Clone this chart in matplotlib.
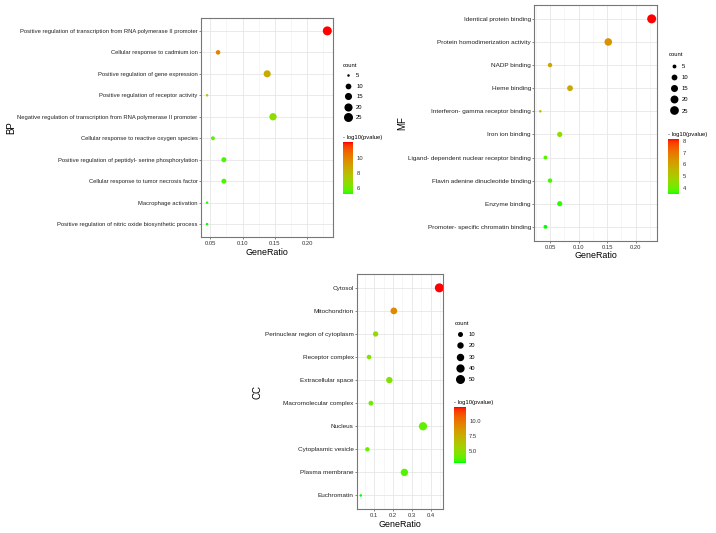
import numpy as np
import matplotlib
matplotlib.use('Agg')
import matplotlib.pyplot as plt
from matplotlib.colors import ListedColormap
from matplotlib.lines import Line2D
from matplotlib.ticker import MultipleLocator

plt.rcParams['font.family'] = ['Liberation Sans', 'DejaVu Sans']

# ---- data ----
bp_terms = ['Positive regulation of transcription from RNA polymerase II promoter',
            'Cellular response to cadmium ion',
            'Positive regulation of gene expression',
            'Positive regulation of receptor activity',
            'Negative regulation of transcription from RNA polymerase II promoter',
            'Cellular response to reactive oxygen species',
            'Positive regulation of peptidyl- serine phosphorylation',
            'Cellular response to tumor necrosis factor',
            'Macrophage activation',
            'Positive regulation of nitric oxide biosynthetic process']
bp_ratio = [0.231, 0.062, 0.138, 0.045, 0.147, 0.054, 0.071, 0.071, 0.045, 0.045]
bp_count = [25, 7, 15, 5, 16, 6, 8, 8, 5, 5]
bp_logp = [12.1, 10.0, 8.6, 7.2, 6.6, 5.6, 5.4, 5.5, 5.2, 5.1]

mf_terms = ['Identical protein binding',
            'Protein homodimerization activity',
            'NADP binding',
            'Heme binding',
            'Interferon- gamma receptor binding',
            'Iron ion binding',
            'Ligand- dependent nuclear receptor binding',
            'Flavin adenine dinucleotide binding',
            'Enzyme binding',
            'Promoter- specific chromatin binding']
mf_ratio = [0.228, 0.152, 0.050, 0.085, 0.033, 0.067, 0.042, 0.050, 0.067, 0.042]
mf_count = [27, 18, 6, 10, 4, 8, 5, 6, 8, 5]
mf_logp = [8.15, 6.4, 5.9, 5.9, 5.4, 4.5, 3.8, 3.7, 3.6, 3.5]

cc_terms = ['Cytosol',
            'Mitochondrion',
            'Perinuclear region of cytoplasm',
            'Receptor complex',
            'Extracellular space',
            'Macromolecular complex',
            'Nucleus',
            'Cytoplasmic vesicle',
            'Plasma membrane',
            'Euchromatin']
cc_ratio = [0.446, 0.204, 0.107, 0.072, 0.180, 0.082, 0.359, 0.063, 0.260, 0.028]
cc_count = [50, 23, 12, 8, 20, 9, 40, 7, 29, 3]
cc_logp = [12.4, 9.3, 5.3, 4.6, 4.6, 4.2, 3.9, 4.1, 3.6, 3.0]


# green -> red gradient interpolated in Lab (like ggplot)
M = np.array([[0.4124, 0.3576, 0.1805], [0.2126, 0.7152, 0.0722], [0.0193, 0.1192, 0.9505]])
WHITE = M.sum(axis=1)

def to_lab(rgb):
    c = np.asarray(rgb, float)
    lin = np.where(c <= 0.04045, c / 12.92, ((c + 0.055) / 1.055) ** 2.4)
    xyz = M @ lin / WHITE
    f = np.where(xyz > (6 / 29) ** 3, np.cbrt(xyz), xyz / (3 * (6 / 29) ** 2) + 4 / 29)
    return np.array([116 * f[1] - 16, 500 * (f[0] - f[1]), 200 * (f[1] - f[2])])

def from_lab(lab):
    fy = (lab[0] + 16) / 116
    f = np.array([fy + lab[1] / 500, fy, fy - lab[2] / 200])
    xyz = np.where(f > 6 / 29, f ** 3, 3 * (6 / 29) ** 2 * (f - 4 / 29)) * WHITE
    lin = np.clip(np.linalg.solve(M, xyz), 0, None)
    c = np.where(lin <= 0.0031308, 12.92 * lin, 1.055 * lin ** (1 / 2.4) - 0.055)
    return np.clip(c, 0, 1)

g, r = to_lab((0, 1, 0)), to_lab((1, 0, 0))
cmap = ListedColormap([from_lab(g + t * (r - g)) for t in np.linspace(0, 1, 256)])

W, H = 716, 533
fig = plt.figure(figsize=(W / 100, H / 100), dpi=100)

def px_axes(l, t, r, b):
    return fig.add_axes([l / W, 1 - b / H, (r - l) / W, (b - t) / H])


def draw(box, terms, ratio, count, logp, name, major, xlim, tick_fs, ylab_x,
         breaks, leg_xy, leg_sp, cbox, cticks, clabels):
    ax = px_axes(*box)
    y = np.arange(len(terms))
    cmin, cmax = min(count), max(count)

    def diam(c):
        return (2.5 + 6.5 * np.sqrt((np.asarray(c, float) - cmin) / (cmax - cmin))) * 0.72

    sc = ax.scatter(ratio, y, s=diam(count) ** 2, c=logp, cmap=cmap,
                    vmin=min(logp), vmax=max(logp), edgecolors='none', zorder=3)
    ax.set_yticks(y, terms)
    ax.set_ylim(len(terms) - 0.4, -0.6)
    ax.set_xlim(*xlim)
    ax.xaxis.set_major_locator(MultipleLocator(major))
    ax.xaxis.set_minor_locator(MultipleLocator(major / 2))
    ax.xaxis.set_major_formatter(lambda v, p: ('%.2f' % v) if major < 0.1 else ('%.1f' % v))
    ax.grid(True, which='major', color='#e6e6e6', lw=0.6)
    ax.grid(True, which='minor', axis='x', color='#f0f0f0', lw=0.4)
    ax.set_axisbelow(True)
    for s in ax.spines.values():
        s.set_color('#777777')
        s.set_linewidth(0.8)
    ax.tick_params(axis='y', labelsize=tick_fs, length=1.5, width=0.5, pad=1, colors='#555555', labelcolor='#222222')
    ax.tick_params(axis='x', labelsize=4.2, length=1.5, width=0.5, pad=1.5, colors='#555555', labelcolor='#333333')
    ax.tick_params(which='minor', length=0)
    ax.set_xlabel('GeneRatio', fontsize=6.4, labelpad=1)
    ax.set_ylabel(name, fontsize=7)
    ax.yaxis.set_label_coords(ylab_x, 0.5)

    handles = [Line2D([], [], marker='o', ls='', color='black', markeredgewidth=0,
                      markersize=diam(b)) for b in breaks]
    ax.legend(handles, [str(b) for b in breaks], title='count', loc='upper left',
              bbox_to_anchor=(leg_xy[0] / W, 1 - leg_xy[1] / H), bbox_transform=fig.transFigure,
              frameon=False, fontsize=4.2, title_fontsize=4.2, borderpad=0, borderaxespad=0,
              handlelength=1.8, handletextpad=0.5, labelspacing=leg_sp, alignment='left')

    cax = px_axes(*cbox)
    cb = fig.colorbar(sc, cax=cax)
    cb.outline.set_visible(False)
    cb.set_ticks(cticks, labels=clabels)
    cax.tick_params(labelsize=4.2, length=1.5, width=0.4, colors='white', labelcolor='#333333', pad=1)
    cax.text(0, 1.04, '- log10(pvalue)', transform=cax.transAxes, fontsize=4.2,
             ha='left', va='bottom')
    return ax


draw((201, 18, 333, 237), bp_terms, bp_ratio, bp_count, bp_logp, 'BP', 0.05, (0.0356, 0.2398), 4.2, -1.40,
     [5, 10, 15, 20, 25], (342.7, 63), 0.92, (343.3, 142.3, 353.3, 194.3), [6, 8, 10], ['6', '8', '10'])
draw((534.3, 5, 656.7, 240.7), mf_terms, mf_ratio, mf_count, mf_logp, 'MF', 0.05, (0.0225, 0.2368), 4.55, -1.04,
     [5, 10, 15, 20, 25], (668.5, 52.5), 1.05, (667.7, 139, 679, 194), [4, 5, 6, 7, 8], ['4', '5', '6', '7', '8'])
draw((357.3, 274, 443.3, 509.3), cc_terms, cc_ratio, cc_count, cc_logp, 'CC', 0.1, (0.0096, 0.467), 4.6, -1.10,
     [10, 20, 30, 40, 50], (455, 321), 1.05, (454.3, 407.3, 465.7, 462.7), [5, 7.5, 10], ['5.0', '7.5', '10.0'])

fig.savefig('out.png', dpi=100)
